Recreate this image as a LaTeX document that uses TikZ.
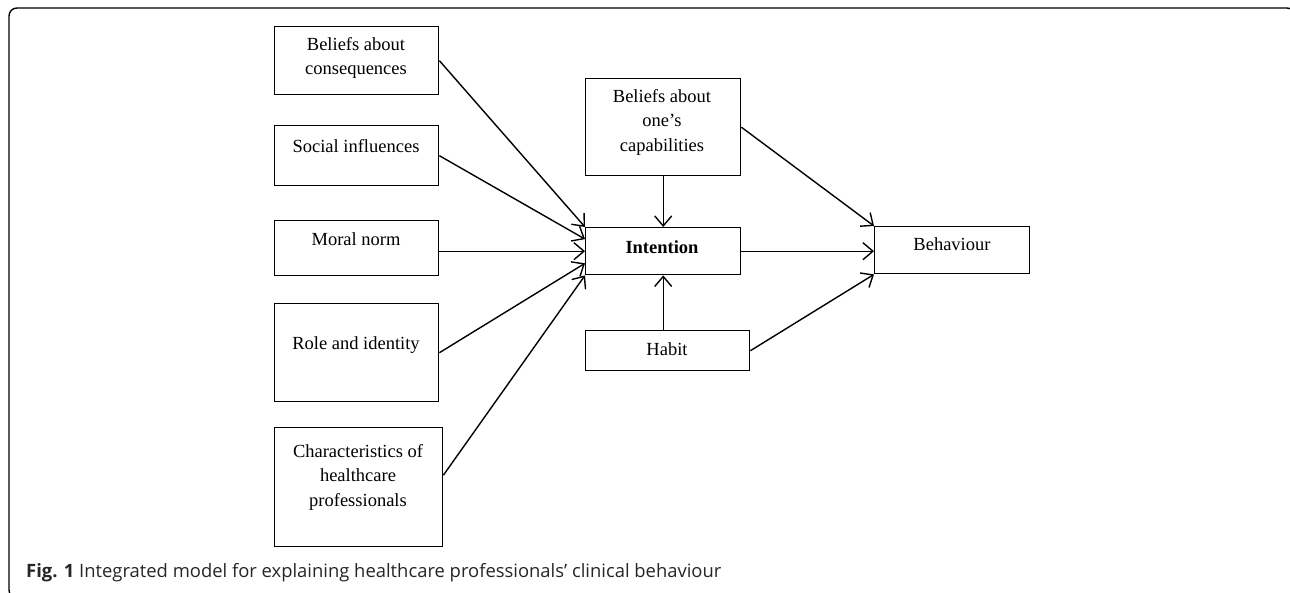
\documentclass[tikz,border=0pt]{standalone}
\usepackage{fontspec}
\setmainfont{Liberation Serif}
\newfontfamily\capfont{Open Sans}
\usetikzlibrary{arrows.meta,calc}
\begin{document}
\begin{tikzpicture}[x=1pt,y=-1pt,
  box/.style={draw,line width=1.4pt,inner sep=0pt,anchor=north west},
  txt/.style={align=center,font=\fontsize{18.5}{24.5}\selectfont,inner sep=0pt},
  arr/.style={line width=1.4pt,-{Straight Barb[length=10pt,width=17pt,line width=1.4pt]}}]
\useasboundingbox (0,0) rectangle (1290,592);
\clip (0,0) rectangle (1290,592);
\draw[line width=1.4pt,rounded corners=8pt] (9,8) rectangle (1295,598);
% left boxes
\node (b1) [box,minimum width=164pt,minimum height=68pt] at (274,26) {};
\node (b2) [box,minimum width=164pt,minimum height=60pt] at (274,125) {};
\node (b3) [box,minimum width=164pt,minimum height=55pt] at (274,220) {};
\node (b4) [box,minimum width=164pt,minimum height=98pt] at (274,303) {};
\node (b5) [box,minimum width=168pt,minimum height=119pt] at (274,427) {};
% centre and right boxes
\node (cap) [box,minimum width=155pt,minimum height=97pt] at (585,78) {};
\node (int) [box,minimum width=155pt,minimum height=47pt] at (585,227) {};
\node (hab) [box,minimum width=164pt,minimum height=40pt] at (585,330) {};
\node (beh) [box,minimum width=155pt,minimum height=47pt] at (874,226) {};
% texts
\node (t1) [txt] at (356,58) {Beliefs about\\consequences};
\node (t2) [txt] at (356,146) {Social influences};
\node (t3) [txt] at (356,239) {Moral norm};
\node (t4) [txt] at (356,345) {Role and identity};
\node (t5) [txt] at (358,477) {Characteristics of\\healthcare\\professionals};
\node (tc) [txt] at (662,122) {Beliefs about\\one’s\\capabilities};
\node (ti) [txt,font=\fontsize{18.5}{24.5}\selectfont\bfseries] at (662,247) {Intention};
\node (th) [txt] at (667,349) {Habit};
\node (tb) [txt] at (952,244) {Behaviour};
% connectors
\draw[arr] (b1.east) -- (int.north west);
\draw[arr] (b2.east) -- ($(int.north west)!0.25!(int.south west)$);
\draw[arr] (int.west -| b3.east) -- (int.west);
\draw[arr] (b4.east) -- ($(int.north west)!0.75!(int.south west)$);
\draw[arr] ($(b5.north east)!0.4!(b5.south east)$) -- (int.south west);
\draw[arr] (cap.south) -- (int.north);
\draw[arr] (cap.east) -- (beh.north west);
\draw[arr] (int.east) -- (int.east -| beh.west);
\draw[arr] (int.south |- hab.north) -- (int.south);
\draw[arr] (hab.east) -- (beh.south west);
% caption
\node (caption) [anchor=base west,inner sep=0pt,text=black!85,font=\capfont\fontsize{18.4}{22}\selectfont] at (26,577) {\textbf{Fig. 1} Integrated model for explaining healthcare professionals’ clinical behaviour};
\end{tikzpicture}
\end{document}
